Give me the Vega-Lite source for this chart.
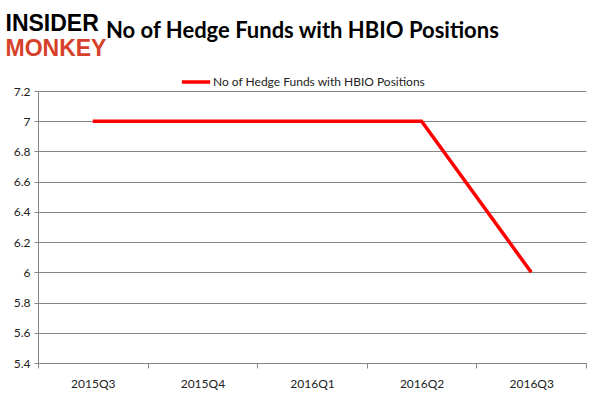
{
  "$schema": "https://vega.github.io/schema/vega-lite/v6.json",
  "width": 548,
  "height": 272,
  "autosize": {"type": "none"},
  "padding": {"left": 38, "top": 91, "right": 16, "bottom": 36},
  "background": "white",
  "title": {
    "text": "No of Hedge Funds with HBIO Positions",
    "anchor": "start",
    "frame": "group",
    "dx": 68,
    "dy": 39,
    "offset": 8,
    "font": "Lato",
    "fontSize": 22,
    "fontWeight": "bold",
    "color": "#000000"
  },
  "data": {
    "values": [
      {"quarter": "2015Q3", "funds": 7, "series": "No of Hedge Funds with HBIO Positions"},
      {"quarter": "2015Q4", "funds": 7, "series": "No of Hedge Funds with HBIO Positions"},
      {"quarter": "2016Q1", "funds": 7, "series": "No of Hedge Funds with HBIO Positions"},
      {"quarter": "2016Q2", "funds": 7, "series": "No of Hedge Funds with HBIO Positions"},
      {"quarter": "2016Q3", "funds": 6, "series": "No of Hedge Funds with HBIO Positions"}
    ]
  },
  "mark": {"type": "line", "strokeWidth": 3.5, "strokeJoin": "miter", "strokeCap": "butt"},
  "encoding": {
    "x": {
      "field": "quarter",
      "type": "ordinal",
      "bandPosition": 0.5,
      "scale": {"type": "band", "paddingInner": 0, "paddingOuter": 0},
      "axis": {
        "title": "MONKEY",
        "titleX": -33,
        "titleY": -308,
        "titleAlign": "left",
        "titleBaseline": "alphabetic",
        "titleAnchor": null,
        "titleFont": "Liberation Sans",
        "titleFontSize": 23,
        "titleFontWeight": "bold",
        "titleColor": "#d6412b",
        "labelAngle": 0,
        "labelFont": "Lato",
        "labelFontSize": 12,
        "labelColor": "#222222",
        "labelPadding": 10,
        "tickBand": "extent",
        "tickSize": 5,
        "tickColor": "#868686",
        "domainColor": "#868686",
        "grid": false
      }
    },
    "y": {
      "field": "funds",
      "type": "quantitative",
      "scale": {"domain": [5.4, 7.2], "nice": false, "zero": false},
      "axis": {
        "title": "INSIDER",
        "titleX": -33,
        "titleY": -61,
        "titleAngle": 0,
        "titleAlign": "left",
        "titleBaseline": "alphabetic",
        "titleAnchor": null,
        "titleFont": "Liberation Sans",
        "titleFontSize": 23,
        "titleFontWeight": "bold",
        "titleColor": "#000000",
        "values": [5.4, 5.6, 5.8, 6, 6.2, 6.4, 6.6, 6.8, 7, 7.2],
        "format": "~g",
        "labelFont": "Lato",
        "labelFontSize": 12,
        "labelColor": "#222222",
        "labelPadding": 4,
        "tickSize": 4,
        "tickColor": "#868686",
        "domainColor": "#868686",
        "grid": true,
        "gridColor": "#868686",
        "gridWidth": 1
      }
    },
    "color": {
      "field": "series",
      "type": "nominal",
      "scale": {"range": ["#ff0000"]},
      "legend": {
        "title": null,
        "orient": "none",
        "legendX": 142,
        "legendY": -25,
        "symbolType": "stroke",
        "symbolSize": 800,
        "symbolStrokeWidth": 3.5,
        "labelFont": "Lato",
        "labelFontSize": 12,
        "labelLimit": 400,
        "labelColor": "#222222",
        "labelOffset": 1
      }
    }
  },
  "config": {
    "view": {"stroke": null}
  }
}
